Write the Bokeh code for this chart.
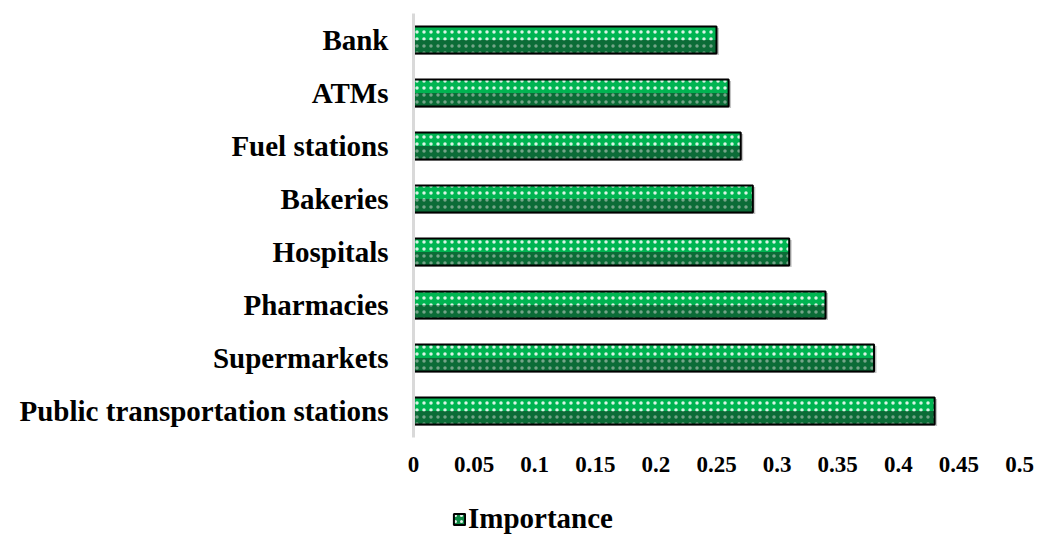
from bokeh.plotting import figure
from bokeh.layouts import column
from bokeh.models import FactorRange, Range1d, FixedTicker, Legend, LegendItem, ColumnDataSource
from bokeh.transform import dodge
from bokeh.embed import file_html
from bokeh.resources import INLINE

# Service categories (top to bottom) and their importance weights
categories = ["Bank", "ATMs", "Fuel stations", "Bakeries", "Hospitals",
              "Pharmacies", "Supermarkets", "Public transportation stations"]
importance = [0.25, 0.26, 0.27, 0.28, 0.31, 0.34, 0.38, 0.43]

x_ticks = [0, 0.05, 0.1, 0.15, 0.2, 0.25, 0.3, 0.35, 0.4, 0.45, 0.5]
x_tick_labels = ["0", "0.05", "0.1", "0.15", "0.2", "0.25", "0.3", "0.35", "0.4", "0.45", "0.5"]

series_name = "Importance"

FONT = "Liberation Serif"
BRIGHT = "#00b451"
DARK = "#0b6c37"
BAR_H = 0.51

source = ColumnDataSource(dict(cat=categories, val=importance,
                               shadow=[v + 0.002 for v in importance]))

p = figure(width=1051, height=482, output_backend="svg", toolbar_location=None,
           y_range=FactorRange(*reversed(categories)), x_range=Range1d(0, 0.5),
           min_border_left=413, min_border_right=32, min_border_top=13, min_border_bottom=45)
p.outline_line_color = None
p.xgrid.visible = False
p.ygrid.visible = False

# soft drop shadow
p.hbar(y=dodge("cat", -0.03, range=p.y_range), right="shadow", left=0, height=BAR_H,
       source=source, fill_color="#c4c4c4", line_color=None)
# lower (shaded) half of each bar
p.hbar(y="cat", right="val", left=0, height=BAR_H, source=source,
       fill_color=DARK, line_color=None,
       hatch_pattern="dot", hatch_color="#8fb39d", hatch_alpha=0.8,
       hatch_scale=7, hatch_weight=1.6)
# upper (lit) half of each bar
p.hbar(y=dodge("cat", BAR_H / 4, range=p.y_range), right="val", left=0, height=BAR_H / 2,
       source=source, fill_color=BRIGHT, line_color=None,
       hatch_pattern="dot", hatch_color="white", hatch_alpha=0.85,
       hatch_scale=7, hatch_weight=1.6)
# outline
p.hbar(y="cat", right="val", left=0, height=BAR_H, source=source,
       fill_color=None, line_color="black", line_width=2)

# axes
p.yaxis.axis_line_color = "#d9d9d9"
p.yaxis.axis_line_width = 3
p.yaxis.major_tick_line_color = None
p.yaxis.minor_tick_line_color = None
p.yaxis.major_label_standoff = 19
p.yaxis.major_label_text_font = FONT
p.yaxis.major_label_text_font_style = "bold"
p.yaxis.major_label_text_font_size = "29px"
p.yaxis.major_label_text_color = "black"

p.xaxis.axis_line_color = None
p.xaxis.major_tick_line_color = None
p.xaxis.minor_tick_line_color = None
p.xaxis.ticker = FixedTicker(ticks=x_ticks)
p.xaxis.major_label_overrides = dict(zip(x_ticks, x_tick_labels))
p.xaxis.major_label_standoff = 13
p.xaxis.major_label_text_font = FONT
p.xaxis.major_label_text_font_style = "bold"
p.xaxis.major_label_text_font_size = "23px"
p.xaxis.major_label_text_color = "black"

# legend strip under the chart (its frame lines up with the chart frame)
lg = figure(width=1051, height=53, output_backend="svg", toolbar_location=None,
            x_range=Range1d(0, 1), y_range=Range1d(0, 1),
            min_border_left=413, min_border_right=32,
            min_border_top=0, min_border_bottom=0)
lg.axis.visible = False
lg.grid.visible = False
lg.outline_line_color = None
nan = float("nan")
swatch = lg.hbar(y=[nan], left=[nan], right=[nan], height=0.5, fill_color="#0f8a45",
                 line_color="black", line_width=2,
                 hatch_pattern="dot", hatch_color="white", hatch_alpha=0.9,
                 hatch_scale=6, hatch_weight=1.6)
legend = Legend(items=[LegendItem(label=series_name, renderers=[swatch])],
                location=(39, 0), orientation="horizontal",
                glyph_width=14, glyph_height=14, label_standoff=2,
                padding=0, margin=0, border_line_color=None, background_fill_alpha=0,
                label_text_font=FONT, label_text_font_style="bold",
                label_text_font_size="29px", label_text_color="black")
lg.add_layout(legend)

layout = column(p, lg, spacing=0)
open("out.html", "w").write(file_html(layout, INLINE))
